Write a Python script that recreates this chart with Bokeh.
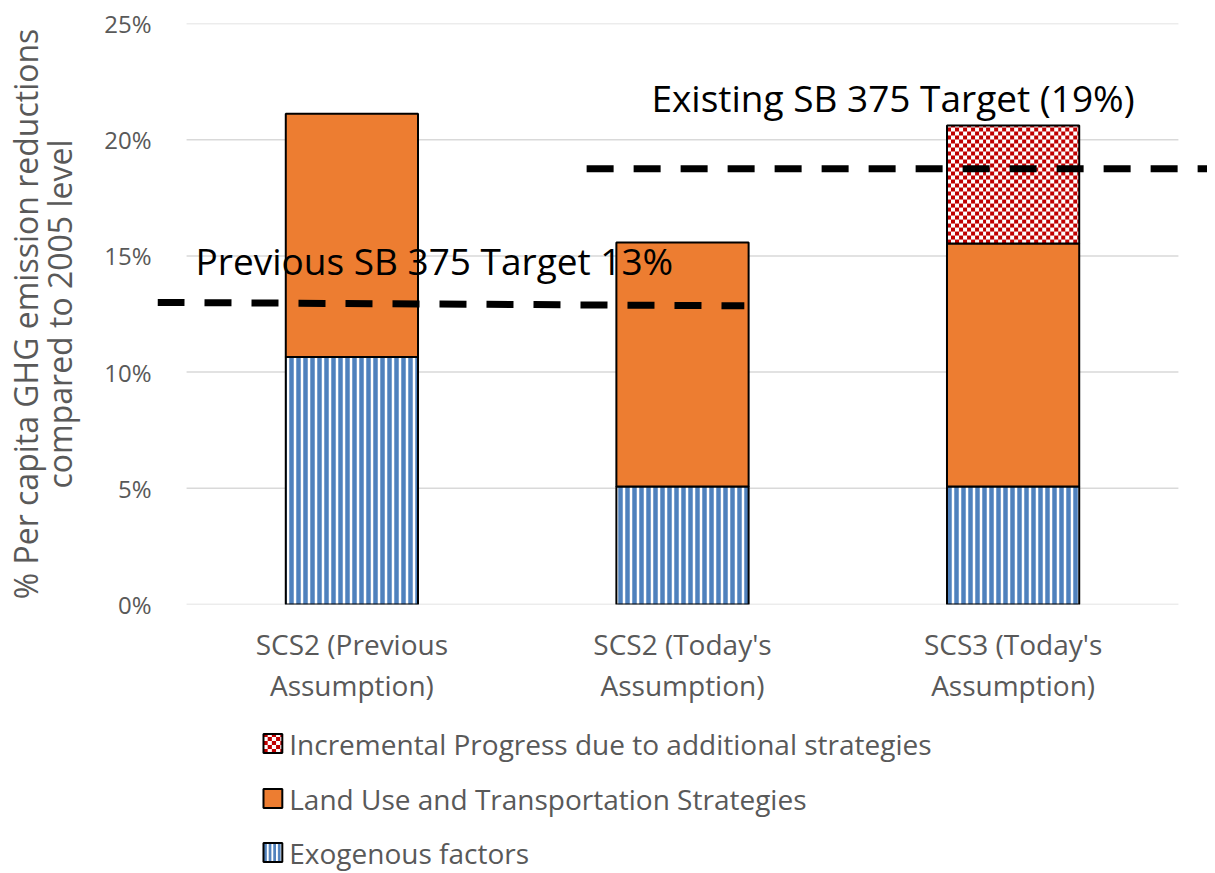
import numpy as np
from bokeh.plotting import figure
from bokeh.layouts import column
from bokeh.models import Range1d, FixedTicker
from bokeh.core.properties import value
from bokeh.embed import file_html
from bokeh.resources import INLINE

categories = ["SCS2 (Previous\nAssumption)", "SCS2 (Today's\nAssumption)", "SCS3 (Today's\nAssumption)"]
exogenous = [10.65, 5.08, 5.08]
land_use = [10.47, 10.5, 10.45]
incremental = [0.0, 0.0, 5.08]
series_labels = ["Incremental Progress due to additional strategies",
                 "Land Use and Transportation Strategies",
                 "Exogenous factors"]
y_ticks = [0, 5, 10, 15, 20, 25]
y_tick_labels = ["0%", "5%", "10%", "15%", "20%", "25%"]
prev_target = [13.0, 12.85]
prev_target_x = [-0.088, 1.687]
exist_target = [18.75, 18.75]
exist_target_x = [1.21, 3.088]
prev_label = "Previous SB 375 Target 13%"
exist_label = "Existing SB 375 Target (19%)"

xs = [i + 0.5 for i in range(len(categories))]
land_top = [a + b for a, b in zip(exogenous, land_use)]
inc_top = [a + b for a, b in zip(land_top, incremental)]

GREY = "#595959"
FONT = "Open Sans"
BLUE = "#4F81BD"
ORANGE = "#ED7D31"
RED = (192, 0, 0)

W = 1207
MB_LEFT = 147
FRAME_W, FRAME_H = W - MB_LEFT, 581
X0, X1 = -0.088, 3.088
Y0, Y1 = 0, 25
px_x = FRAME_W / (X1 - X0)
px_y = FRAME_H / (Y1 - Y0)


def checker(rows, cols, cell=4):
    img = np.empty((rows, cols), dtype=np.uint32)
    v = img.view(dtype=np.uint8).reshape((rows, cols, 4))
    yy, xx = np.mgrid[0:rows, 0:cols]
    red = ((yy // cell + xx // cell) % 2) == 0
    v[..., 0] = np.where(red, RED[0], 255)
    v[..., 1] = np.where(red, RED[1], 255)
    v[..., 2] = np.where(red, RED[2], 255)
    v[..., 3] = 255
    return img


exo_style = dict(fill_color="white", hatch_pattern="vertical_line", hatch_color=BLUE,
                 hatch_weight=4.5, hatch_scale=7, line_color="black", line_width=2)
land_style = dict(fill_color=ORANGE, line_color="black", line_width=2)

PH = 715
p = figure(width=W, height=PH, output_backend="svg", toolbar_location=None,
           x_range=Range1d(X0, X1), y_range=Range1d(Y0, Y1),
           min_border_left=MB_LEFT, min_border_right=0, min_border_top=23,
           min_border_bottom=PH - 23 - FRAME_H)
p.outline_line_color = None
p.xgrid.visible = False
p.ygrid.visible = False

p.segment(x0=[0] * len(y_ticks), x1=[3] * len(y_ticks), y0=y_ticks, y1=y_ticks,
          line_color="#D9D9D9", line_width=1.5, level="underlay")

bw = 0.4
p.vbar(x=xs, bottom=0, top=exogenous, width=bw, **exo_style)
p.vbar(x=xs, bottom=exogenous, top=land_top, width=bw, **land_style)
inc_x = [x for x, v in zip(xs, incremental) if v > 0]
inc_b = [b for b, v in zip(land_top, incremental) if v > 0]
inc_v = [v for v in incremental if v > 0]
inc_t = [t for t, v in zip(inc_top, incremental) if v > 0]
for x, b, v in zip(inc_x, inc_b, inc_v):
    img = checker(int(round(v * px_y)), int(round(bw * px_x)))
    p.image_rgba(image=[img], x=x - bw / 2, y=b, dw=bw, dh=v)
p.vbar(x=inc_x, bottom=inc_b, top=inc_t, width=bw, fill_color=None, line_color="black", line_width=2)

p.line(prev_target_x, prev_target, line_color="black", line_width=7, line_dash="27 20")
p.line(exist_target_x, exist_target, line_color="black", line_width=7, line_dash="27 20")

p.text(x=[0.027], y=[prev_target[0] + 1.81], text=[prev_label], text_font=value(FONT),
       text_font_size="37px", text_color="black", text_baseline="middle", text_align="left")
p.text(x=[1.406], y=[exist_target[0] + 3.08], text=[exist_label], text_font=value(FONT),
       text_font_size="37px", text_color="black", text_baseline="middle", text_align="left")

p.xaxis.ticker = FixedTicker(ticks=xs)
p.xaxis.major_label_overrides = {x: c for x, c in zip(xs, categories)}
p.xaxis.axis_line_color = None
p.xaxis.major_tick_line_color = None
p.xaxis.minor_tick_line_color = None
p.xaxis.major_label_text_font = FONT
p.xaxis.major_label_text_font_size = "28px"
p.xaxis.major_label_text_color = GREY
p.xaxis.major_label_text_line_height = 1.08
p.xaxis.major_label_standoff = 14

p.yaxis.ticker = FixedTicker(ticks=y_ticks)
p.yaxis.major_label_overrides = {t: l for t, l in zip(y_ticks, y_tick_labels)}
p.yaxis.axis_line_color = None
p.yaxis.major_tick_line_color = None
p.yaxis.minor_tick_line_color = None
p.yaxis.major_label_text_font = FONT
p.yaxis.major_label_text_font_size = "24px"
p.yaxis.major_label_text_color = GREY
p.yaxis.major_label_standoff = 0
p.yaxis.axis_label = "% Per capita GHG emission reductions\ncompared to 2005 level"
p.yaxis.axis_label_text_font = FONT
p.yaxis.axis_label_text_font_size = "32px"
p.yaxis.axis_label_text_font_style = "normal"
p.yaxis.axis_label_text_color = GREY
p.yaxis.axis_label_text_line_height = 0.8
p.yaxis.axis_label_standoff = 20

# legend strip below the chart; its frame lines up with the chart frame (page px units)
LH = 873 - PH
q = figure(width=W, height=LH, output_backend="svg", toolbar_location=None,
           x_range=Range1d(8 + MB_LEFT, 8 + W), y_range=Range1d(0, LH),
           x_axis_type=None, y_axis_type=None,
           min_border_left=0, min_border_right=0, min_border_top=0, min_border_bottom=0)
q.grid.visible = False
q.outline_line_color = None

sw = 19
sw_x = 262 + sw / 2
row_page_y = [743, 798, 852]
row_y = [LH - (yy - PH) for yy in row_page_y]
q.image_rgba(image=[checker(sw, sw, 4)], x=sw_x - sw / 2, y=row_y[0] - sw / 2, dw=sw, dh=sw)
q.rect(x=[sw_x], y=[row_y[0]], width=sw, height=sw, fill_color=None, line_color="black", line_width=2)
q.rect(x=[sw_x], y=[row_y[1]], width=sw, height=sw, **land_style)
q.rect(x=[sw_x], y=[row_y[2]], width=sw, height=sw, **dict(exo_style, hatch_scale=4.6, hatch_weight=2.8))
q.text(x=[288] * len(series_labels), y=row_y, text=series_labels, text_font=value(FONT),
       text_font_size="28px", text_color=GREY, text_baseline="middle", text_align="left")

open("out.html", "w").write(file_html(column(p, q), INLINE))
